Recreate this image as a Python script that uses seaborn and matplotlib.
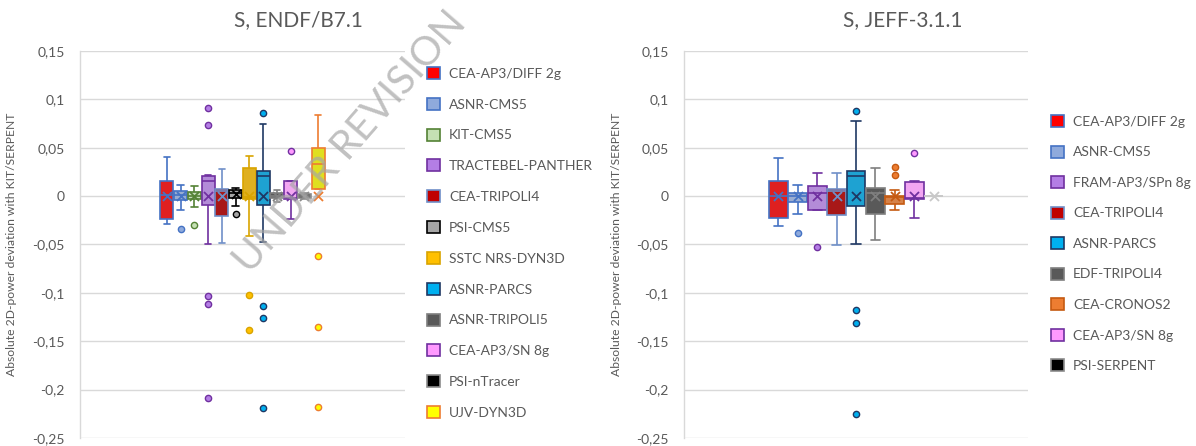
import numpy as np
import pandas as pd
import matplotlib
matplotlib.use("Agg")
import matplotlib.pyplot as plt
import seaborn as sns
from matplotlib.patches import Patch

sns.set_theme(style="white")
plt.rcParams['font.family'] = ['Lato', 'DejaVu Sans']

TXT = '#595959'

# ---------------- Left chart: S, ENDF/B7.1 ----------------
models_L = ["CEA-AP3/DIFF 2g", "ASNR-CMS5", "KIT-CMS5", "TRACTEBEL-PANTHER", "CEA-TRIPOLI4",
            "PSI-CMS5", "SSTC NRS-DYN3D", "ASNR-PARCS", "ASNR-TRIPOLI5", "CEA-AP3/SN 8g",
            "PSI-nTracer", "UJV-DYN3D"]
wlo_L = [-0.029, -0.0145, -0.011, -0.050, -0.048, -0.010, -0.041, -0.047, -0.006, -0.024, -0.003, 0.007]
q1_L = [-0.024, -0.004, -0.003, -0.009, -0.021, -0.002, -0.003, -0.009, -0.002, -0.003, -0.002, 0.007]
med_L = [0.001, 0.001, 0.000, 0.016, 0.005, 0.003, -0.001, 0.021, 0.000, -0.002, 0.000, 0.033]
q3_L = [0.016, 0.005, 0.004, 0.021, 0.007, 0.006, 0.029, 0.026, 0.003, 0.016, 0.002, 0.050]
whi_L = [0.040, 0.011, 0.010, 0.022, 0.028, 0.008, 0.041, 0.075, 0.006, 0.016, 0.003, 0.084]
out_L = [[], [-0.034], [-0.030], [0.091, 0.073, -0.103, -0.112, -0.209], [], [-0.018],
         [-0.102, -0.138], [0.086, -0.114, -0.126, -0.219], [], [0.047], [], [-0.062, -0.135, -0.218]]
mean_L = [0.0, 0.0, 0.0, 0.0, 0.0, 0.002, 0.0, 0.0, 0.0, 0.0, 0.0, 0.0]
fill_L = ['#FF0000', '#8FAADC', '#C5E0B4', '#B47EE5', '#C00000', '#A6A6A6', '#FFC000', '#00B0F0',
          '#595959', '#FF99FF', '#000000', '#FFFF00']
edge_L = ['#4472C4', '#4472C4', '#548235', '#7030A0', '#6F8FC8', '#000000', '#D9A400', '#1F3864',
          '#7F7F7F', '#7030A0', '#8C8C8C', '#ED7D31']

# ---------------- Right chart: S, JEFF-3.1.1 ----------------
models_R = ["CEA-AP3/DIFF 2g", "ASNR-CMS5", "FRAM-AP3/SPn 8g", "CEA-TRIPOLI4", "ASNR-PARCS",
            "EDF-TRIPOLI4", "CEA-CRONOS2", "CEA-AP3/SN 8g", "PSI-SERPENT"]
wlo_R = [-0.031, -0.018, -0.014, -0.051, -0.049, -0.045, -0.014, -0.023, 0.0]
q1_R = [-0.023, -0.006, -0.014, -0.019, -0.010, -0.018, -0.008, -0.003, 0.0]
med_R = [0.000, 0.000, 0.003, 0.005, 0.021, 0.003, -0.001, -0.002, 0.0]
q3_R = [0.016, 0.003, 0.010, 0.007, 0.026, 0.008, 0.000, 0.015, 0.0]
whi_R = [0.039, 0.012, 0.024, 0.024, 0.078, 0.029, 0.006, 0.016, 0.0]
out_R = [[], [-0.038], [-0.053], [], [0.088, -0.118, -0.131, -0.225], [], [0.030, 0.022], [0.045], []]
mean_R = [0.0, 0.0, 0.0, 0.0, 0.0, 0.0, 0.0, 0.0, 0.0]
fill_R = ['#FF0000', '#8FAADC', '#B47EE5', '#C00000', '#00B0F0', '#595959', '#ED7D31', '#FF99FF', '#000000']
edge_R = ['#4472C4', '#4472C4', '#7030A0', '#6F8FC8', '#1F3864', '#7F7F7F', '#C55A11', '#7030A0', '#C8C8C8']
legend_edge_R = edge_R[:-1] + ['#8C8C8C']

ytick_vals = [-0.25, -0.2, -0.15, -0.1, -0.05, 0.0, 0.05, 0.1, 0.15]
ytick_labels = ["-0,25", "-0,2", "-0,15", "-0,1", "-0,05", "0", "0,05", "0,1", "0,15"]
ylabel = "Absolute 2D-power deviation with KIT/SERPENT"


def build(models, wlo, q1, med, q3, whi, outl):
    rows = []
    for m, a, b, c, d, e, o in zip(models, wlo, q1, med, q3, whi, outl):
        vals = [a] + [b] * 10 + [c] * 10 + [d] * 10 + [e] + list(o)
        rows += [(m, v) for v in vals]
    df = pd.DataFrame(rows, columns=['model', 'dev'])
    df['case'] = 'S'
    return df


def draw(ax, df, models, means, fills, edges, leg_edges, leg_pos, ylab_x, lspace):
    pal = dict(zip(models, fills))
    for m, fc, ec in zip(models, fills, edges):
        sub = df[df.model == m]
        sns.boxplot(data=sub, x='case', y='dev', hue='model', hue_order=models, palette=pal,
                    dodge=True, width=0.8, gap=0.04, linecolor=ec, linewidth=1.2,
                    flierprops=dict(marker='o', markersize=4.5, markerfacecolor=fc,
                                    markeredgecolor=ec, markeredgewidth=1.0),
                    legend=False, ax=ax)
    mdf = pd.DataFrame({'model': models, 'mean': means, 'case': 'S'})
    sns.stripplot(data=mdf, x='case', y='mean', hue='model', hue_order=models,
                  palette=dict(zip(models, edges)), dodge=True, jitter=False, marker='x',
                  s=6.5, linewidth=1.3, legend=False, ax=ax, zorder=6)
    ax.set_xlim(-0.788, 0.788)
    ax.set_ylim(-0.25, 0.15)
    ax.set_xticks([])
    ax.set_xlabel('')
    ax.set_yticks(ytick_vals)
    ax.set_yticklabels(ytick_labels, color=TXT, fontsize=10)
    ax.tick_params(axis='y', length=0, pad=11)
    ax.yaxis.grid(True, color='#D9D9D9', lw=1)
    ax.set_axisbelow(True)
    for s in ['top', 'right', 'bottom']:
        ax.spines[s].set_visible(False)
    ax.spines['left'].set_color('#D9D9D9')
    ax.spines['left'].set_linewidth(1)
    ax.set_ylabel(ylabel, fontsize=8.7, color=TXT)
    ax.yaxis.set_label_coords(ylab_x, 0.5)
    handles = [Patch(facecolor=f, edgecolor=e, lw=1.2) for f, e in zip(fills, leg_edges)]
    leg = ax.legend(handles, models, loc='upper left', bbox_to_anchor=leg_pos,
                    bbox_transform=ax.figure.transFigure, frameon=False, fontsize=10,
                    handlelength=0.95, handleheight=0.95, handletextpad=0.65,
                    labelspacing=lspace, borderpad=0, borderaxespad=0)
    for t in leg.get_texts():
        t.set_color(TXT)


fig = plt.figure(figsize=(11.96, 4.46), dpi=100)
axL = fig.add_axes([80 / 1196, 1 - 438 / 446, 325 / 1196, 387 / 446])
axR = fig.add_axes([684 / 1196, 1 - 438 / 446, 344 / 1196, 387 / 446])

dfL = build(models_L, wlo_L, q1_L, med_L, q3_L, whi_L, out_L)
dfR = build(models_R, wlo_R, q1_R, med_R, q3_R, whi_R, out_R)

draw(axL, dfL, models_L, mean_L, fill_L, edge_L, edge_L, (427 / 1196, 1 - 67 / 446), -0.194, 1.3)
draw(axR, dfR, models_R, mean_R, fill_R, edge_R, legend_edge_R, (1051 / 1196, 1 - 115 / 446), -0.18, 1.28)

fig.text(298 / 1196, 1 - 20 / 446, "S, ENDF/B7.1", ha='center', va='center', fontsize=15, color=TXT)
fig.text(903 / 1196, 1 - 20 / 446, "S, JEFF-3.1.1", ha='center', va='center', fontsize=15, color=TXT)

fig.text(350 / 1196, 1 - 142 / 446, "UNDER REVISION", ha='center', va='center', rotation=49,
         fontsize=29, color='#A6A6A6', alpha=0.7, zorder=10)

fig.savefig("out.png", dpi=100)
